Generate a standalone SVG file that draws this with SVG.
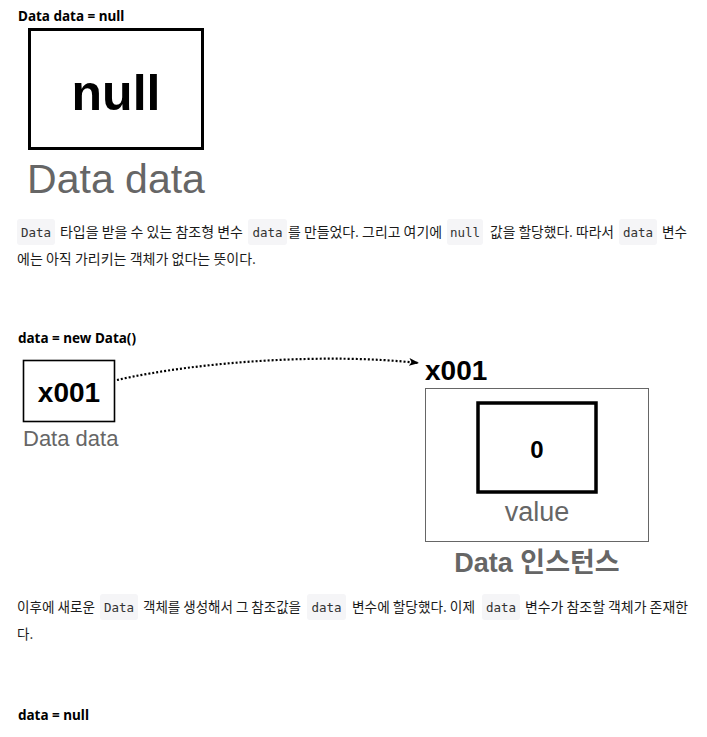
<svg xmlns="http://www.w3.org/2000/svg" width="707" height="737" viewBox="0 0 707 737">
<style>
.h{font-family:"Noto Sans","Noto Sans CJK KR",sans-serif;font-weight:bold;font-size:13.5px;fill:#000}
.p{font-family:"Noto Sans CJK KR","Noto Sans",sans-serif;font-size:13.5px;fill:#1a1a1a}
.cb{fill:#f5f5f7}
.c{font-family:"DejaVu Sans Mono","Liberation Mono",monospace;font-size:12.5px;fill:#333}
.big{font-family:"Liberation Sans",Arial,sans-serif;font-weight:bold;fill:#000}
.gr{font-family:"Liberation Sans",Arial,sans-serif;fill:#666}
.box{fill:#fff;stroke:#000}
</style>
<defs>
<marker id="ah" viewBox="0 0 10 8" refX="9" refY="4" markerWidth="10" markerHeight="8" orient="auto" markerUnits="userSpaceOnUse">
<path d="M0,0 L10,4 L0,8 L2.5,4 Z" fill="#000"/>
</marker>
</defs>
<rect width="707" height="737" fill="#fff"/>

<text class="h" x="18" y="21">Data data = null</text>

<g id="null-var">
<rect class="box" x="29.5" y="29.5" width="173" height="119" stroke-width="3"/>
<text class="big" x="116" y="110" font-size="50" text-anchor="middle">null</text>
<text class="gr" x="116" y="193" font-size="41" text-anchor="middle">Data data</text>
</g>

<g id="para1">
<rect class="cb" x="17" y="219" width="38" height="26" rx="3"/>
<text class="c" x="36" y="237" text-anchor="middle">Data</text>
<text class="p" x="60" y="237" textLength="183" lengthAdjust="spacingAndGlyphs">타입을 받을 수 있는 참조형 변수</text>
<rect class="cb" x="248" y="219" width="39" height="26" rx="3"/>
<text class="c" x="267.5" y="237" text-anchor="middle">data</text>
<text class="p" x="288" y="237" textLength="154" lengthAdjust="spacingAndGlyphs">를 만들었다. 그리고 여기에</text>
<rect class="cb" x="447" y="219" width="36" height="26" rx="3"/>
<text class="c" x="465" y="237" text-anchor="middle">null</text>
<text class="p" x="490" y="237" textLength="124" lengthAdjust="spacingAndGlyphs">값을 할당했다. 따라서</text>
<rect class="cb" x="619" y="219" width="38" height="26" rx="3"/>
<text class="c" x="638" y="237" text-anchor="middle">data</text>
<text class="p" x="662" y="237" textLength="25" lengthAdjust="spacingAndGlyphs">변수</text>
<text class="p" x="17" y="264" textLength="239" lengthAdjust="spacingAndGlyphs">에는 아직 가리키는 객체가 없다는 뜻이다.</text>
</g>

<text class="h" x="18" y="343">data = new Data()</text>

<g id="data-var">
<rect class="box" x="23.5" y="360.5" width="91" height="61" stroke-width="1.6"/>
<text class="big" x="69" y="402" font-size="28" text-anchor="middle">x001</text>
<text class="gr" x="23" y="446" font-size="22">Data data</text>
</g>

<g id="connectors">
<path d="M117,380 C200,361 330,353 418,363" fill="none" stroke="#000" stroke-width="2.2" stroke-dasharray="2 2" marker-end="url(#ah)"/>
</g>

<g id="data-instance">
<text class="big" x="425" y="380" font-size="28">x001</text>
<rect x="425.5" y="388.5" width="223" height="153" fill="#fff" stroke="#666" stroke-width="1"/>
<rect class="box" x="478" y="403" width="118" height="89" stroke-width="3.5"/>
<text class="big" x="537" y="458" font-size="24" text-anchor="middle">0</text>
<text class="gr" x="537" y="521" font-size="27" text-anchor="middle">value</text>
<text x="537" y="572" font-size="27" text-anchor="middle" font-weight="bold" fill="#666" font-family="Liberation Sans,Noto Sans CJK KR,sans-serif">Data 인스턴스</text>
</g>

<g id="para2">
<text class="p" x="17" y="612" textLength="78" lengthAdjust="spacingAndGlyphs">이후에 새로운</text>
<rect class="cb" x="100" y="594" width="38" height="26" rx="3"/>
<text class="c" x="119" y="612" text-anchor="middle">Data</text>
<text class="p" x="143" y="612" textLength="158" lengthAdjust="spacingAndGlyphs">객체를 생성해서 그 참조값을</text>
<rect class="cb" x="307" y="594" width="39" height="26" rx="3"/>
<text class="c" x="326.5" y="612" text-anchor="middle">data</text>
<text class="p" x="352" y="612" textLength="123" lengthAdjust="spacingAndGlyphs">변수에 할당했다. 이제</text>
<rect class="cb" x="482" y="594" width="38" height="26" rx="3"/>
<text class="c" x="501" y="612" text-anchor="middle">data</text>
<text class="p" x="525" y="612" textLength="163" lengthAdjust="spacingAndGlyphs">변수가 참조할 객체가 존재한</text>
<text class="p" x="17" y="639">다.</text>
</g>

<text class="h" x="18" y="720">data = null</text>
</svg>
